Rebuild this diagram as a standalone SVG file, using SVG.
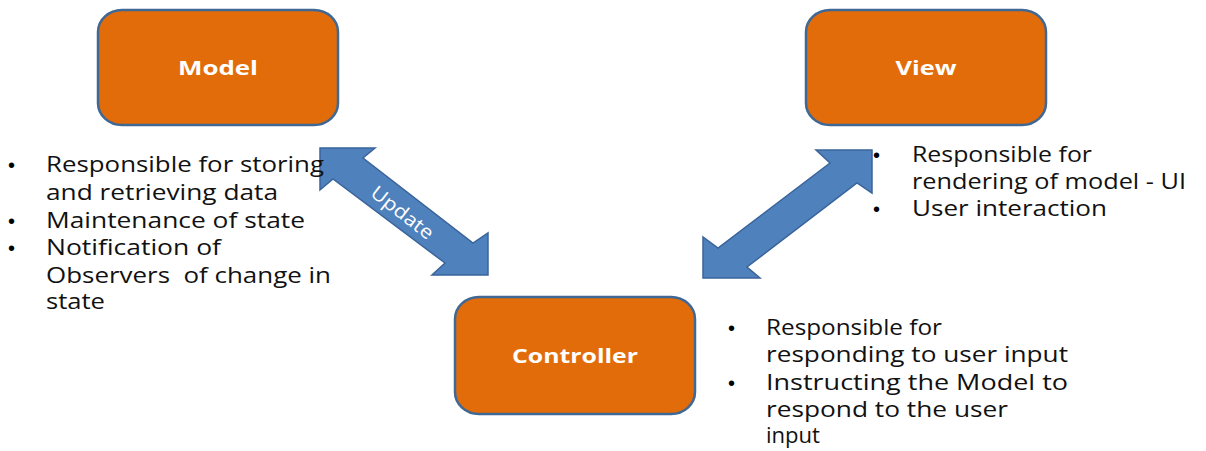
<svg xmlns="http://www.w3.org/2000/svg" width="1206" height="451" viewBox="0 0 1206 451">
  <style>
    .box { fill: #E36C0A; stroke: #3F6895; stroke-width: 2.5; }
    .title { font-family: "Open Sans", "Liberation Sans", sans-serif; font-weight: bold; font-size: 20px; fill: #FFFFFF; text-anchor: middle; }
    .arrow { fill: #4F81BD; stroke: #3A649A; stroke-width: 1.5; stroke-linejoin: miter; }
    .body { font-family: "Open Sans", "Liberation Sans", sans-serif; font-size: 21px; fill: #111111; }
    .bullet { font-family: "Liberation Sans", sans-serif; font-size: 20px; fill: #000000; }
    .label { font-family: "Open Sans", "Liberation Sans", sans-serif; font-size: 19px; fill: #FFFFFF; text-anchor: middle; }
  </style>
  <rect width="1206" height="451" fill="#FFFFFF"/>

  <!-- double-headed block arrows -->
  <g id="connectors">
    <g id="model-controller">
      <polygon class="arrow" points="320,148 375,148 363,158 473,243 488,233 488,275 432,275 445,263 333,179 320,190"/>
      <text class="label" transform="translate(402,213) rotate(38)" textLength="74" lengthAdjust="spacingAndGlyphs" y="6">Update</text>
    </g>
    <g id="view-controller">
      <polygon class="arrow" points="872,150 872,193 857,183 747,267 760,278 703,278 703,237 718,248 830,163 816,150"/>
    </g>
  </g>

  <g id="model">
    <rect class="box" x="98" y="10" width="240" height="115" rx="24" ry="22"/>
    <text class="title" x="218" y="75" textLength="80" lengthAdjust="spacingAndGlyphs">Model</text>
  </g>

  <g id="view">
    <rect class="box" x="806" y="10" width="240" height="115" rx="24" ry="22"/>
    <text class="title" x="926" y="75" textLength="61" lengthAdjust="spacingAndGlyphs">View</text>
  </g>

  <g id="controller">
    <rect class="box" x="455" y="297" width="240" height="117" rx="24" ry="22"/>
    <text class="title" x="575" y="363" textLength="126" lengthAdjust="spacingAndGlyphs">Controller</text>
  </g>

  <!-- Model responsibilities -->
  <g id="model-notes">
    <text class="bullet" x="8" y="172">•</text>
    <text class="bullet" x="8" y="228">•</text>
    <text class="bullet" x="8" y="255">•</text>
    <text class="body" x="46" y="172" textLength="278" lengthAdjust="spacingAndGlyphs">Responsible for storing</text>
    <text class="body" x="46" y="200" textLength="232" lengthAdjust="spacingAndGlyphs">and retrieving data</text>
    <text class="body" x="46" y="228" textLength="259" lengthAdjust="spacingAndGlyphs">Maintenance of state</text>
    <text class="body" x="46" y="255" textLength="175" lengthAdjust="spacingAndGlyphs">Notification of</text>
    <text class="body" x="46" y="283" textLength="285" lengthAdjust="spacingAndGlyphs" xml:space="preserve">Observers  of change in</text>
    <text class="body" x="46" y="309" textLength="59" lengthAdjust="spacingAndGlyphs">state</text>
  </g>

  <!-- View responsibilities -->
  <g id="view-notes">
    <text class="bullet" x="873" y="162">•</text>
    <text class="bullet" x="873" y="216">•</text>
    <text class="body" x="912" y="162" textLength="180" lengthAdjust="spacingAndGlyphs">Responsible for</text>
    <text class="body" x="912" y="189" textLength="274" lengthAdjust="spacingAndGlyphs">rendering of model - UI</text>
    <text class="body" x="912" y="216" textLength="195" lengthAdjust="spacingAndGlyphs">User interaction</text>
  </g>

  <!-- Controller responsibilities -->
  <g id="controller-notes">
    <text class="bullet" x="728" y="335">•</text>
    <text class="bullet" x="728" y="390">•</text>
    <text class="body" x="766" y="335" textLength="176" lengthAdjust="spacingAndGlyphs">Responsible for</text>
    <text class="body" x="766" y="362" textLength="302" lengthAdjust="spacingAndGlyphs">responding to user input</text>
    <text class="body" x="766" y="390" textLength="302" lengthAdjust="spacingAndGlyphs">Instructing the Model to</text>
    <text class="body" x="766" y="417" textLength="242" lengthAdjust="spacingAndGlyphs">respond to the user</text>
    <text class="body" x="766" y="443" textLength="54" lengthAdjust="spacingAndGlyphs">input</text>
  </g>
</svg>
